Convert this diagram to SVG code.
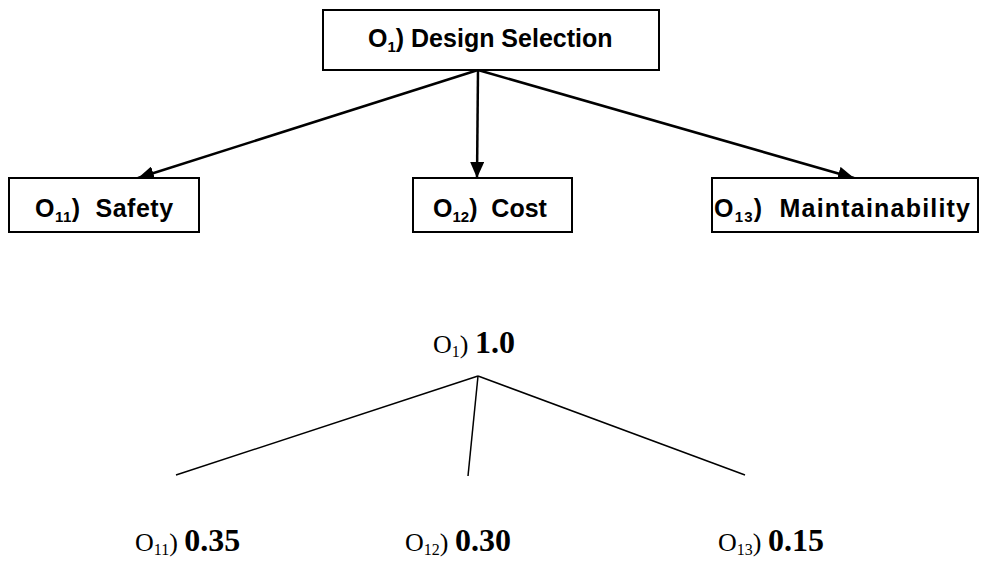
<svg xmlns="http://www.w3.org/2000/svg" width="986" height="569" viewBox="0 0 986 569">
<style>
.box{fill:#fff;stroke:#000;stroke-width:2}
.t{font-family:"Liberation Sans",Arial,sans-serif;font-weight:bold;font-size:25px;fill:#000;white-space:pre}
.sub{font-size:15px}
.w{font-family:"Liberation Serif","Times New Roman",serif;font-size:26px;fill:#000;white-space:pre}
.ws{font-size:16px}
.b{font-weight:bold;font-size:32px}
.arr{stroke:#000;stroke-width:2.5;fill:none;marker-end:url(#ah)}
.ln{stroke:#000;stroke-width:1.5;fill:none}
</style>
<defs>
<marker id="ah" markerUnits="userSpaceOnUse" markerWidth="18" markerHeight="14" refX="16" refY="7" orient="auto">
<path d="M0,0 L16,7 L0,14 Z" fill="#000"/>
</marker>
</defs>
<g id="connectors">
<line class="arr" x1="478" y1="70" x2="138" y2="178"/>
<line class="arr" x1="478" y1="70" x2="477" y2="178"/>
<line class="arr" x1="478" y1="70" x2="854" y2="178"/>
<line class="ln" x1="478" y1="376" x2="176" y2="475"/>
<line class="ln" x1="478" y1="376" x2="468" y2="476"/>
<line class="ln" x1="478" y1="376" x2="745" y2="475"/>
</g>
<g id="n1">
<rect class="box" x="323" y="10" width="336" height="60"/>
<text class="t" x="368" y="47">O<tspan class="sub" dy="5">1</tspan><tspan dy="-5">) Design Selection</tspan></text>
</g>
<g id="n11">
<rect class="box" x="9" y="178" width="190" height="54"/>
<text class="t" x="35" y="217" letter-spacing="0.5">O<tspan class="sub" dy="5">11</tspan><tspan dy="-5">)  Safety</tspan></text>
</g>
<g id="n12">
<rect class="box" x="413" y="178" width="159" height="54"/>
<text class="t" x="433" y="217">O<tspan class="sub" dy="5">12</tspan><tspan dy="-5">)  Cost</tspan></text>
</g>
<g id="n13">
<rect class="box" x="712" y="178" width="266" height="54"/>
<text class="t" x="714" y="217" letter-spacing="1.2">O<tspan class="sub" dy="5">13</tspan><tspan dy="-5">)  Maintainability</tspan></text>
</g>
<g id="w1">
<text class="w" x="433" y="353">O<tspan class="ws" dy="4">1</tspan><tspan dy="-4">) </tspan><tspan class="b">1.0</tspan></text>
</g>
<g id="w11">
<text class="w" x="135" y="551">O<tspan class="ws" dy="4">11</tspan><tspan dy="-4">) </tspan><tspan class="b">0.35</tspan></text>
</g>
<g id="w12">
<text class="w" x="405" y="551">O<tspan class="ws" dy="4">12</tspan><tspan dy="-4">) </tspan><tspan class="b">0.30</tspan></text>
</g>
<g id="w13">
<text class="w" x="718" y="551">O<tspan class="ws" dy="4">13</tspan><tspan dy="-4">) </tspan><tspan class="b">0.15</tspan></text>
</g>
</svg>
